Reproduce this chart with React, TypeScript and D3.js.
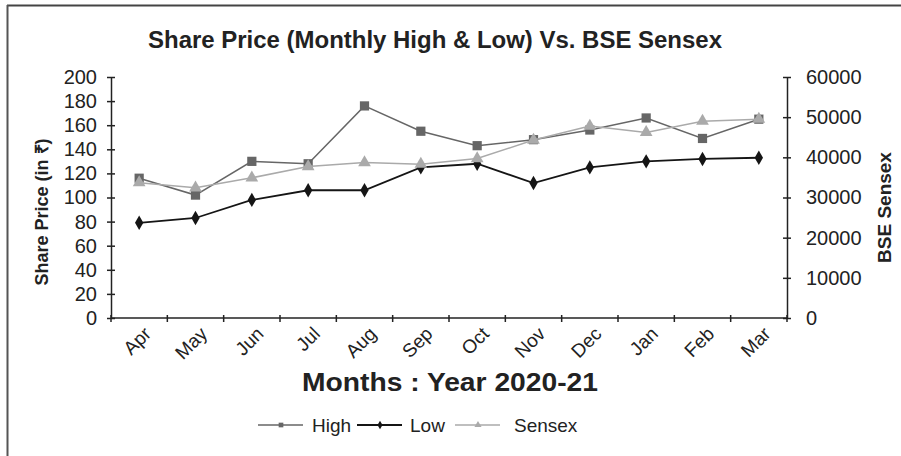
import React, { useEffect, useRef } from 'react';
import * as d3 from 'd3';

// data
const months = ['Apr', 'May', 'Jun', 'Jul', 'Aug', 'Sep', 'Oct', 'Nov', 'Dec', 'Jan', 'Feb', 'Mar'];
const high = [116, 102, 130, 128, 176, 155, 143, 148, 156, 166, 149, 165];
const low = [79, 83, 98, 106, 106, 125, 128, 112, 125, 130, 132, 133];
const sensex = [33700, 32400, 34900, 37700, 38700, 38300, 39700, 44300, 47800, 46200, 49000, 49500];
const leftTicks = [0, 20, 40, 60, 80, 100, 120, 140, 160, 180, 200];
const rightTicks = [0, 10000, 20000, 30000, 40000, 50000, 60000];

const FONT = '"Liberation Sans", Arial, sans-serif';

const App = () => {
  const svgRef = useRef<SVGSVGElement>(null);

  useEffect(() => {
    const svg = d3.select(svgRef.current);
    svg.selectAll('*').remove();

    const W = 901, H = 456;
    const m = { left: 111, right: 787, top: 77, bottom: 318 };

    const x = d3.scaleBand().domain(months).range([m.left, m.right]);
    const yL = d3.scaleLinear().domain([0, 200]).range([m.bottom, m.top]);
    const yR = d3.scaleLinear().domain([0, 60000]).range([m.bottom, m.top]);
    const cx = (d: string) => x(d)! + x.bandwidth() / 2;

    svg.append('rect').attr('width', W).attr('height', H).attr('fill', '#fff');

    // frame (top + left only)
    svg.append('line').attr('x1', 7).attr('x2', W).attr('y1', 5.5).attr('y2', 5.5)
      .attr('stroke', '#444').attr('stroke-width', 2);
    svg.append('line').attr('x1', 7.5).attr('x2', 7.5).attr('y1', 5).attr('y2', H)
      .attr('stroke', '#555').attr('stroke-width', 2);

    svg.append('text')
      .attr('x', 435).attr('y', 48)
      .attr('text-anchor', 'middle')
      .attr('font-family', FONT).attr('font-weight', 'bold').attr('font-size', 23)
      .attr('textLength', 574).attr('lengthAdjust', 'spacingAndGlyphs')
      .attr('fill', '#222')
      .text('Share Price (Monthly High & Low) Vs. BSE Sensex');

    const axisColor = '#222';

    // left axis
    const la = svg.append('g').attr('transform', `translate(${m.left},0)`)
      .call(d3.axisLeft(yL).tickValues(leftTicks).tickSize(0).tickPadding(14).tickFormat(d3.format('d')));
    la.select('.domain').attr('stroke', axisColor).attr('stroke-width', 1.5);
    la.selectAll('.tick').append('line').attr('x1', -4).attr('x2', 4).attr('stroke', axisColor).attr('stroke-width', 1.5);
    la.selectAll('text').attr('font-family', FONT).attr('font-size', 20).attr('fill', '#222');

    // right axis
    const ra = svg.append('g').attr('transform', `translate(${m.right},0)`)
      .call(d3.axisRight(yR).tickValues(rightTicks).tickSize(0).tickPadding(19).tickFormat(d3.format('d')));
    ra.select('.domain').attr('stroke', axisColor).attr('stroke-width', 1.5);
    ra.selectAll('.tick').append('line').attr('x1', -4).attr('x2', 4).attr('stroke', axisColor).attr('stroke-width', 1.5);
    ra.selectAll('text').attr('font-family', FONT).attr('font-size', 20).attr('fill', '#222');

    // bottom axis
    const ba = svg.append('g').attr('transform', `translate(0,${m.bottom})`);
    ba.append('line').attr('x1', m.left).attr('x2', m.right).attr('stroke', axisColor).attr('stroke-width', 1.5);
    const edges = months.map(d => x(d)!).concat([m.right]);
    ba.selectAll('line.tk').data(edges).enter().append('line').attr('class', 'tk')
      .attr('x1', d => d).attr('x2', d => d).attr('y1', -3).attr('y2', 4)
      .attr('stroke', axisColor).attr('stroke-width', 1.5);
    ba.selectAll('text').data(months).enter().append('text')
      .attr('transform', d => `translate(${cx(d) + 13},${17}) rotate(-45)`)
      .attr('text-anchor', 'end')
      .attr('font-family', FONT).attr('font-size', 19).attr('fill', '#222')
      .text(d => d);

    // axis titles
    svg.append('text')
      .attr('x', 450).attr('y', 391).attr('text-anchor', 'middle')
      .attr('font-family', FONT).attr('font-weight', 'bold').attr('font-size', 25)
      .attr('textLength', 296).attr('lengthAdjust', 'spacingAndGlyphs')
      .attr('fill', '#222')
      .text('Months : Year 2020-21');
    svg.append('text')
      .attr('transform', `translate(48,212) rotate(-90)`)
      .attr('text-anchor', 'middle')
      .attr('font-family', FONT).attr('font-weight', 'bold').attr('font-size', 18).attr('fill', '#222')
      .text('Share Price (in ₹)');
    svg.append('text')
      .attr('transform', `translate(891,${(m.top + m.bottom) / 2 + 10}) rotate(-90)`)
      .attr('text-anchor', 'middle')
      .attr('font-family', FONT).attr('font-weight', 'bold').attr('font-size', 19).attr('fill', '#222')
      .text('BSE Sensex');

    const series = [
      { name: 'High', values: high, y: yL, color: '#666', shape: d3.symbolSquare, size: 85, width: 1.5 },
      { name: 'Low', values: low, y: yL, color: '#151515', shape: d3.symbolDiamond, size: 60, width: 1.8 },
      { name: 'Sensex', values: sensex, y: yR, color: '#aaa', shape: d3.symbolTriangle, size: 70, width: 1.5 },
    ];

    series.forEach(s => {
      const line = d3.line<number>().x((_, i) => cx(months[i])).y(v => s.y(v));
      svg.append('path').datum(s.values).attr('d', line)
        .attr('fill', 'none').attr('stroke', s.color).attr('stroke-width', s.width);
      svg.selectAll(`path.m-${s.name}`).data(s.values).enter().append('path')
        .attr('class', `m-${s.name}`)
        .attr('transform', (v, i) => `translate(${cx(months[i])},${s.y(v)})`)
        .attr('d', d3.symbol().type(s.shape).size(s.size)())
        .attr('fill', s.color);
    });

    // legend
    const legX = [258, 357, 455];
    const legTextX = [312, 410, 514];
    const legY = 425;
    series.forEach((s, i) => {
      const g = svg.append('g');
      g.append('line').attr('x1', legX[i]).attr('x2', legX[i] + 45).attr('y1', legY).attr('y2', legY)
        .attr('stroke', s.color).attr('stroke-width', s.width);
      g.append('path').attr('transform', `translate(${legX[i] + 23},${legY})`)
        .attr('d', d3.symbol().type(s.shape).size(22)()).attr('fill', s.color);
      g.append('text').attr('x', legTextX[i]).attr('y', legY + 7)
        .attr('font-family', FONT).attr('font-size', 19).attr('fill', '#222')
        .text(s.name);
    });
  }, []);

  return (
    <svg ref={svgRef} width={901} height={456}
      style={{ position: 'absolute', left: 0, top: 0, display: 'block' }} />
  );
};

export default App;
